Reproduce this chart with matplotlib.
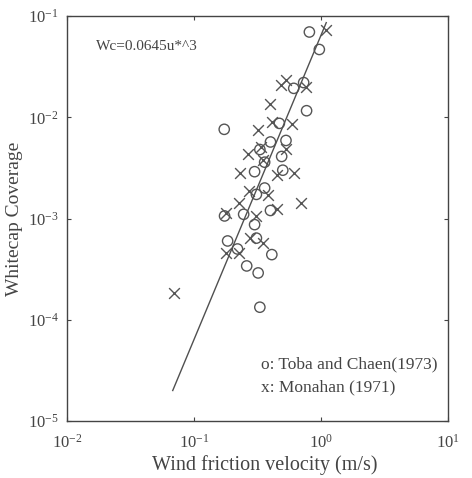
import matplotlib.pyplot as plt
import numpy as np

plt.rcParams['font.family'] = ['Liberation Serif', 'DejaVu Serif']
plt.rcParams['mathtext.fontset'] = 'stix'

# Toba and Chaen (1973) - circles
u_toba = [0.81, 0.97, 0.173, 0.61, 0.73, 0.77, 0.47, 0.40, 0.53, 0.33,
          0.49, 0.30, 0.50, 0.36, 0.31, 0.174, 0.246, 0.40, 0.30, 0.184,
          0.31, 0.41, 0.22, 0.26, 0.32, 0.33, 0.36]
wc_toba = [0.0695, 0.0467, 0.0076, 0.0193, 0.022, 0.0116, 0.0087, 0.0057, 0.0059, 0.0048,
           0.0041, 0.0029, 0.0030, 0.0020, 0.00173, 0.00106, 0.0011, 0.0012, 0.00087, 0.0006,
           0.00064, 0.00044, 0.0005, 0.00034, 0.00029, 0.000133, 0.0036]

# Monahan (1971) - crosses
u_mon = [1.10, 0.53, 0.48, 0.76, 0.40, 0.41, 0.59, 0.32, 0.53, 0.265,
         0.35, 0.23, 0.45, 0.61, 0.27, 0.385, 0.70, 0.226, 0.18, 0.305,
         0.45, 0.275, 0.347, 0.179, 0.226, 0.070, 0.34]
wc_mon = [0.073, 0.0232, 0.0207, 0.020, 0.0136, 0.0090, 0.0086, 0.0075, 0.0049, 0.0043,
          0.0038, 0.0028, 0.0027, 0.0028, 0.00185, 0.00172, 0.00142, 0.00143, 0.00113, 0.00105,
          0.00125, 0.00064, 0.00057, 0.00046, 0.00046, 0.000185, 0.0051]

# fit line Wc = 0.0645 u*^3 (end points)
u_fit = [0.068, 1.10]
wc_fit = [2.0e-5, 0.086]

fig = plt.figure(figsize=(4.72, 4.78), dpi=100)
ax = fig.add_axes([67/472, 1 - 421/478, 381/472, 405/478])

gray = '#555555'
ax.plot(u_fit, wc_fit, color='#505050', lw=1.0)
ax.scatter(u_toba, wc_toba, s=55, marker='o', facecolors='none', edgecolors=gray, linewidths=1.0)
ax.scatter(u_mon, wc_mon, s=60, marker='x', color=gray, linewidths=1.0)

ax.set_xscale('log')
ax.set_yscale('log')
ax.set_xlim(1e-2, 1e1)
ax.set_ylim(1e-5, 1e-1)
ax.minorticks_off()
ax.tick_params(direction='in', length=3, width=0.8, colors='#444444',
               labelcolor='#444444', labelsize=12, top=True, right=True)
ax.tick_params(axis='x', pad=9)
ax.tick_params(axis='y', pad=6)
for s in ax.spines.values():
    s.set_color('#444444')
    s.set_linewidth(1.0)

ax.set_xlabel('Wind friction velocity (m/s)', fontsize=14.5, color='#444444')
ax.set_ylabel('Whitecap Coverage', fontsize=14, color='#444444')
ax.xaxis.set_label_coords(0.52, -0.085)
ax.yaxis.set_label_coords(-0.115, 0.5)

ax.text(0.075, 0.915, 'Wc=0.0645u*^3', transform=ax.transAxes, fontsize=11, color='#444444')
ax.text(0.51, 0.13, 'o: Toba and Chaen(1973)', transform=ax.transAxes, fontsize=12.5, color='#444444')
ax.text(0.51, 0.072, 'x: Monahan (1971)', transform=ax.transAxes, fontsize=12.5, color='#444444')

fig.savefig('out.png', dpi=100)
